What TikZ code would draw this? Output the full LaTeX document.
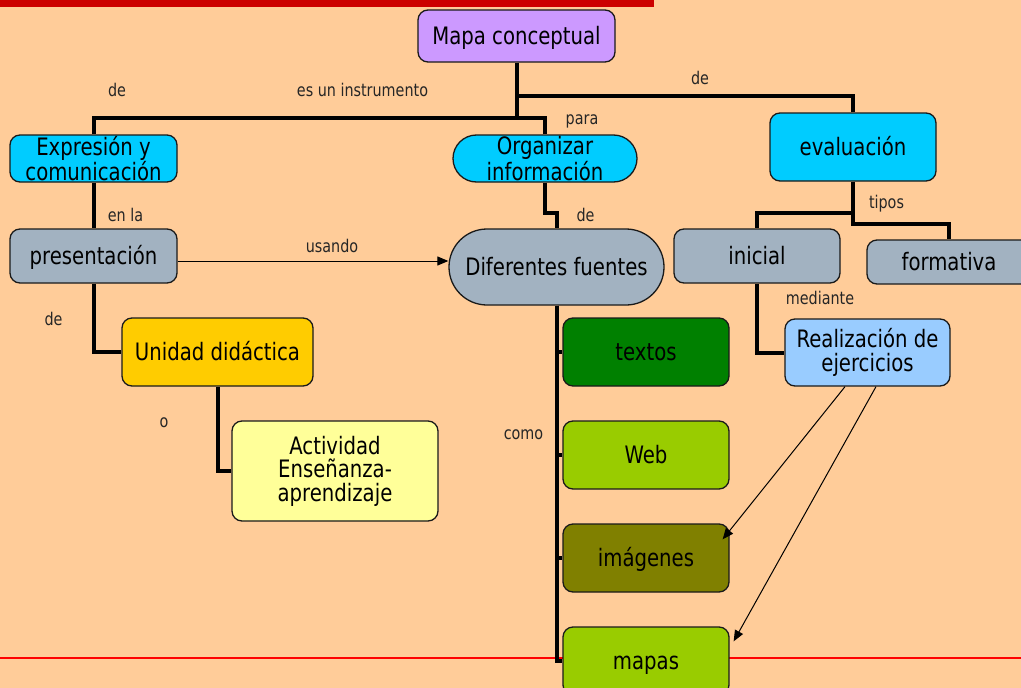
\documentclass[tikz,border=0pt]{standalone}
\usepackage{fontspec}
\setmainfont{DejaVu Sans}
\newfontfamily\nf[FakeStretch=0.82]{DejaVu Sans}
\usetikzlibrary{arrows.meta}
\definecolor{bg}{HTML}{FFCC99}
\definecolor{purp}{HTML}{CC99FF}
\definecolor{cyanb}{HTML}{00CCFF}
\definecolor{greyb}{HTML}{A2B2C1}
\definecolor{gold}{HTML}{FFCC00}
\definecolor{lyellow}{HTML}{FFFF99}
\definecolor{dgreen}{HTML}{008000}
\definecolor{ygreen}{HTML}{99CC00}
\definecolor{olive}{HTML}{808000}
\definecolor{lblue}{HTML}{99CCFF}
\definecolor{redbar}{HTML}{CC0000}
\definecolor{edge}{HTML}{1A1A1A}
\pgfdeclarelayer{conlayer}
\pgfsetlayers{conlayer,main}
\tikzset{
  box/.style={draw=edge, line width=1.3pt, rounded corners=10pt, align=center,
    font=\nf\fontsize{24}{23.5}\selectfont, inner sep=0pt, text=black},
  one/.style={text height=17pt, text depth=1pt},
  lbl/.style={font=\nf\fontsize{17.5}{18}\selectfont, inner sep=0pt, text=black!85},
  conn/.style={line width=4pt, black},
  thinarr/.style={line width=1pt, black, -{Triangle[length=11pt,width=9pt]}},
}
\begin{document}
\begin{tikzpicture}[x=1pt,y=-1pt]
\useasboundingbox (0,0) rectangle (1021,688);
\begin{pgfonlayer}{conlayer}
\clip (0,0) rectangle (1021,688);
\fill[bg] (0,0) rectangle (1021,688);
\fill[redbar] (0,0) rectangle (654,7);
\draw[red, line width=1.2pt] (0,658) -- (1021,658);
\end{pgfonlayer}
\clip (0,0) rectangle (1021,688);

% nodes
\node[box, one, fill=purp, minimum width=197pt, minimum height=52pt] (mapa) at (516.5,36) {Mapa conceptual};
\node[box, fill=cyanb, minimum width=167pt, minimum height=47pt] (expr) at (93.5,158.5) {Expresión y\\comunicación};
\node[box, fill=cyanb, rounded corners=23.5pt, minimum width=184pt, minimum height=47pt] (org) at (545,158.5) {Organizar\\información};
\node[box, one, fill=cyanb, minimum width=166pt, minimum height=68pt] (eval) at (853,147) {evaluación};
\node[box, one, fill=greyb, minimum width=167pt, minimum height=54pt] (pres) at (93.5,256) {presentación};
\node[box, one, fill=greyb, rounded corners=38pt, minimum width=215pt, minimum height=76pt] (dif) at (556.5,267) {Diferentes fuentes};
\node[box, one, fill=gold, minimum width=191pt, minimum height=68pt] (unid) at (217.5,352) {Unidad didáctica};
\node[box, fill=lyellow, minimum width=206pt, minimum height=100pt] (act) at (335,471) {Actividad\\Enseñanza-\\aprendizaje};
\node[box, one, fill=dgreen, minimum width=166pt, minimum height=68pt] (textos) at (646,352) {textos};
\node[box, one, fill=ygreen, minimum width=166pt, minimum height=68pt] (web) at (646,455) {Web};
\node[box, one, fill=olive, minimum width=166pt, minimum height=68pt] (img) at (646,558) {imágenes};
\node[box, one, fill=ygreen, minimum width=166pt, minimum height=68pt] (mapas) at (646,661) {mapas};
\node[box, one, fill=greyb, minimum width=166pt, minimum height=54pt] (inicial) at (757,256) {inicial};
\node[box, one, fill=greyb, minimum width=164pt, minimum height=44pt] (form) at (949,262) {formativa};
\node[box, fill=lblue, minimum width=165pt, minimum height=67pt] (real) at (867.5,352.5) {Realización de\\ejercicios};

% junctions
\coordinate (j1) at (516.5,118);
\coordinate (j2) at (516.5,96);
\coordinate (u) at (300,261);

% connectors (behind nodes)
\begin{pgfonlayer}{conlayer}
\draw[conn] (mapa.south) -- (j1);
\draw[conn] (expr.north) |- (j1);
\draw[conn] (org.north) |- (j1);
\draw[conn] (eval.north) |- (j2);
\draw[conn] (expr.south) -- (pres.north);
\draw[conn] (org.south) -- ++(0,30) -| (dif.north);
\draw[conn] (pres.south) |- (unid.west);
\draw[conn] (unid.south) |- (act.west);
\draw[conn] (dif.south) |- (mapas.west);
\draw[conn] (dif.south) |- (textos.west);
\draw[conn] (dif.south) |- (web.west);
\draw[conn] (dif.south) |- (img.west);
\draw[conn] (eval.south) -- ++(0,31) -| (inicial.north);
\draw[conn] (eval.south) -- ++(0,42) -| (form.north);
\draw[conn] (inicial.south) |- (real.west);
\end{pgfonlayer}
\draw[thinarr] (pres.east |- u) -- (dif.west |- u);
\coordinate (imgtip) at ([xshift=-7pt,yshift=-16pt]img.north east);
\coordinate (maptip) at ([xshift=4pt,yshift=-15pt]mapas.north east);
\draw[thinarr] ([xshift=-22.5pt]real.south) -- (imgtip);
\draw[thinarr] ([xshift=8.5pt]real.south) -- (maptip);

% labels
\node[lbl] (l1) at (117,90) {de};
\node[lbl] (l2) at (362.5,90) {es un instrumento};
\node[lbl] (l3) at (700,78) {de};
\node[lbl] (l4) at (582,121) {para};
\node[lbl] (l5) at (125.5,215) {en la};
\node[lbl] (l6) at (332,246) {usando};
\node[lbl] (l7) at (585.5,215) {de};
\node[lbl] (l8) at (886.5,204) {tipos};
\node[lbl] (l9) at (53.5,319) {de};
\node[lbl] (l10) at (164,423) {o};
\node[lbl] (l11) at (820,298) {mediante};
\node[lbl] (l12) at (523.5,435) {como};
\end{tikzpicture}
\end{document}
